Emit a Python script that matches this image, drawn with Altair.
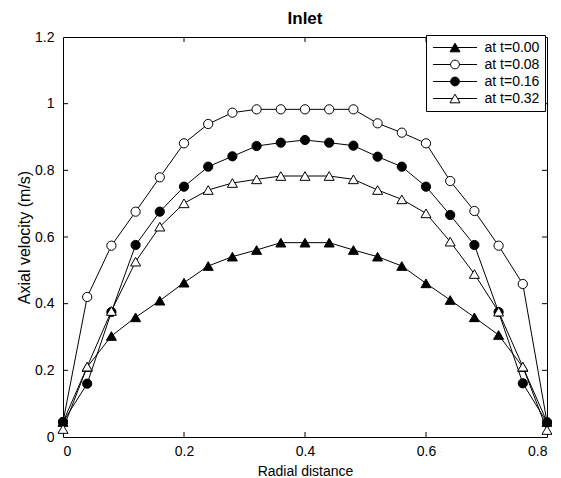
import altair as alt
import pandas as pd

# ---------------- data ----------------
radial = [0.00, 0.04, 0.08, 0.12, 0.16, 0.20, 0.24, 0.28, 0.32, 0.36, 0.40,
          0.44, 0.48, 0.52, 0.56, 0.60, 0.64, 0.68, 0.72, 0.76, 0.80]
series_labels = ["at t=0.00", "at t=0.08", "at t=0.16", "at t=0.32"]
v_t000 = [0.045, 0.210, 0.303, 0.359, 0.409, 0.463, 0.513, 0.541, 0.561, 0.583, 0.583,
          0.583, 0.561, 0.541, 0.513, 0.461, 0.411, 0.359, 0.306, 0.210, 0.045]
v_t008 = [0.045, 0.420, 0.574, 0.676, 0.779, 0.881, 0.939, 0.973, 0.983, 0.983, 0.983,
          0.983, 0.983, 0.941, 0.913, 0.881, 0.768, 0.678, 0.574, 0.459, 0.045]
v_t016 = [0.045, 0.160, 0.375, 0.576, 0.676, 0.751, 0.811, 0.842, 0.873, 0.883, 0.891,
          0.883, 0.874, 0.841, 0.811, 0.751, 0.666, 0.576, 0.375, 0.161, 0.043]
v_t032 = [0.024, 0.211, 0.378, 0.526, 0.631, 0.701, 0.741, 0.762, 0.773, 0.783, 0.783,
          0.783, 0.773, 0.741, 0.713, 0.671, 0.586, 0.489, 0.376, 0.211, 0.021]
x_tick_values = [0, 0.2, 0.4, 0.6, 0.8]
y_tick_values = [0, 0.2, 0.4, 0.6, 0.8, 1.0, 1.2]
inner_x_ticks = [0.2, 0.4, 0.6]
inner_y_ticks = [0.2, 0.4, 0.6, 0.8, 1.0]

# ---------------- styling ----------------
marker_shapes = ["triangle-up", "circle", "circle", "triangle-up"]
marker_fills = ["black", "white", "black", "white"]
marker_sizes = [100, 85, 85, 100]
tri = "M-1,0L-0.114,0M0.114,0L1,0M0,-0.197L-0.227,0.197L0.227,0.197Z"
circ = "M-1,0L-0.2,0M0.2,0L1,0M0.2,0A0.2,0.2,0,1,1,-0.2,0A0.2,0.2,0,1,1,0.2,0Z"
legend_paths = [tri, circ, circ, tri]

FONT = "Liberation Sans"
W, H = 484, 400
TICK = 5

rows = []
for lab, vals in zip(series_labels, [v_t000, v_t008, v_t016, v_t032]):
    for xv, yv in zip(radial, vals):
        rows.append({"r": xv, "v": yv, "series": lab})
df = pd.DataFrame(rows)

xscale = alt.Scale(domain=[0, 0.8], nice=False, zero=False)
yscale = alt.Scale(domain=[0, 1.2], nice=False, zero=False)
xaxis = alt.Axis(values=x_tick_values, format="~g", title="Radial distance",
                 labelPadding=7, titleY=38, titleBaseline="alphabetic", titleFontSize=14)
yaxis = alt.Axis(values=y_tick_values, format="~g", title="Axial velocity (m/s)",
                 labelPadding=9, titleX=-34, titleBaseline="alphabetic", titleFontSize=16)

X = alt.X("r:Q", scale=xscale, axis=xaxis)
Y = alt.Y("v:Q", scale=yscale, axis=yaxis)

layers = []

# inward tick marks on all four sides
xt = alt.Chart(pd.DataFrame({"r": inner_x_ticks}))
yt = alt.Chart(pd.DataFrame({"v": inner_y_ticks}))
layers.append(xt.mark_rule(color="black", strokeWidth=1).encode(
    x=X, y=alt.value(H), y2=alt.value(H - TICK)))
layers.append(xt.mark_rule(color="black", strokeWidth=1).encode(
    x=X, y=alt.value(0), y2=alt.value(TICK)))
layers.append(yt.mark_rule(color="black", strokeWidth=1).encode(
    y=Y, x=alt.value(0), x2=alt.value(TICK)))
layers.append(yt.mark_rule(color="black", strokeWidth=1).encode(
    y=Y, x=alt.value(W), x2=alt.value(W - TICK)))

base = alt.Chart(df)
for i, lab in enumerate(series_labels):
    sub = base.transform_filter(alt.datum.series == lab)
    layers.append(sub.mark_line(color="black", strokeWidth=1).encode(x=X, y=Y))
    layers.append(sub.mark_point(filled=True, stroke="black", strokeWidth=1,
                                 size=marker_sizes[i], opacity=1).encode(
        x=X, y=Y,
        shape=alt.Shape("series:N", scale=alt.Scale(domain=series_labels, range=marker_shapes), legend=None),
        fill=alt.Fill("series:N", scale=alt.Scale(domain=series_labels, range=marker_fills), legend=None),
    ))

leg = alt.Legend(title=None, orient="none", legendX=363, legendY=-2,
                 strokeColor="black", fillColor="white", padding=5,
                 symbolSize=1936, symbolStrokeWidth=1,
                 clipHeight=15, rowPadding=2, labelFontSize=14, labelFont=FONT,
                 labelColor="black", labelOffset=7, symbolOffset=1.5, cornerRadius=0)
layers.append(base.transform_filter("datum.r < -1").mark_point(
    filled=True, stroke="black", strokeWidth=1, opacity=1).encode(
    x=X, y=Y,
    shape=alt.Shape("series:N", scale=alt.Scale(domain=series_labels, range=legend_paths), legend=leg),
    fill=alt.Fill("series:N", scale=alt.Scale(domain=series_labels, range=marker_fills), legend=leg),
))

chart = alt.layer(*layers).resolve_scale(
    shape="independent", fill="independent"
).properties(
    width=W, height=H,
    title=alt.TitleParams("Inlet", fontSize=17, fontWeight="bold", font=FONT,
                          color="black", anchor="middle", offset=2),
    autosize=alt.AutoSizeParams(type="none"),
    padding={"left": 55, "top": 29, "right": 5, "bottom": 40},
).configure_view(
    stroke="black", strokeWidth=1
).configure_axis(
    domain=False, ticks=False, grid=False,
    labelFont=FONT, labelFontSize=14, labelColor="black",
    titleFont=FONT, titleFontWeight="normal", titleColor="black",
)

chart.save("out.html", embed_options={"renderer": "svg", "actions": False})
